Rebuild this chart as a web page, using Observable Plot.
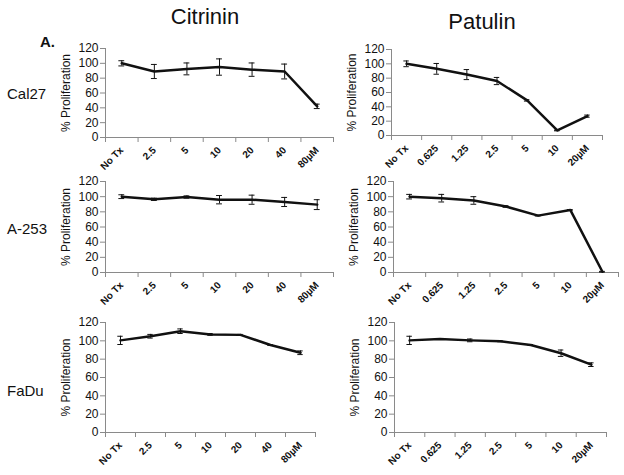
<!DOCTYPE html>
<html><head><meta charset="utf-8">
<script src="https://cdn.jsdelivr.net/npm/d3@7"></script>
<script src="https://cdn.jsdelivr.net/npm/@observablehq/plot@0.6"></script>
<style>
body{margin:0;background:#fff;}
#chart{position:relative;width:624px;height:475px;overflow:hidden;font-family:"Liberation Sans",Arial,sans-serif;color:#111;}
.lbl{position:absolute;white-space:nowrap;line-height:1;}
.panel{position:absolute;}
</style></head><body><div id="chart"></div>
<script>
// ---- data ----
const citrininDoses = ["No Tx", "2.5", "5", "10", "20", "40", "80µM"];
const patulinDoses  = ["No Tx", "0.625", "1.25", "2.5", "5", "10", "20µM"];
const yTicks = [0, 20, 40, 60, 80, 100, 120];

const cal27Citrinin    = [100, 89, 92.5, 95, 91.5, 89, 42];
const cal27CitrininErr = [3.5, 9.5, 8, 11, 9, 10, 3];
const cal27Patulin     = [100, 93, 85, 76, 49, 7, 27];
const cal27PatulinErr  = [4, 7.5, 7, 5, 1, 0.5, 1.5];

const a253Citrinin     = [100, 96.5, 99.5, 96, 96, 93, 89.5];
const a253CitrininErr  = [2.5, 1.5, 1.5, 5.5, 6, 6, 6.5];
const a253Patulin      = [100, 98, 95, 87, 75, 82.5, 1];
const a253PatulinErr   = [3, 5, 5, 1, 0.5, 0.5, 0.5];

const faduCitrinin     = [100.5, 105, 110.5, 107, 106.5, 95.5, 87];
const faduCitrininErr  = [4.5, 2, 2.5, 1, 0.5, 0.5, 2];
const faduPatulin      = [100.5, 102, 100.5, 99.5, 95.5, 86.5, 74];
const faduPatulinErr   = [4.5, 0.5, 1.5, 0.5, 0.5, 3.5, 2];

const drugTitles = ["Citrinin", "Patulin"];
const cellLines = ["Cal27", "A-253", "FaDu"];

// ---- layout ----
const panels = [
  {x0:105, x1:333, yT:48,  yB:137, doses:citrininDoses, v:cal27Citrinin, e:cal27CitrininErr},
  {x0:391, x1:602, yT:49,  yB:135, doses:patulinDoses,  v:cal27Patulin,  e:cal27PatulinErr},
  {x0:105, x1:333, yT:181, yB:272, doses:citrininDoses, v:a253Citrinin,  e:a253CitrininErr},
  {x0:393, x1:618, yT:181, yB:272, doses:patulinDoses,  v:a253Patulin,   e:a253PatulinErr},
  {x0:105, x1:315, yT:322, yB:432, doses:citrininDoses, v:faduCitrinin,  e:faduCitrininErr},
  {x0:394, x1:606, yT:322, yB:432, doses:patulinDoses,  v:faduPatulin,   e:faduPatulinErr}
];

const chart = document.getElementById("chart");
const FONT = '"Liberation Sans", Arial, sans-serif';
const AXIS = "#8a8a8a";
const INK = "#111";
const mL = 80, mR = 6, mT = 8, mB = 50;

panels.forEach(p => {
  const n = p.doses.length;
  const data = p.v.map((v, i) => ({x: i + 0.5, v, e: p.e[i]}));
  const centers = d3.range(n).map(i => i + 0.5);
  const svg = Plot.plot({
    width: mL + (p.x1 - p.x0) + mR,
    height: mT + (p.yB - p.yT) + mB,
    marginLeft: mL, marginRight: mR, marginTop: mT, marginBottom: mB,
    x: {domain: [0, n]},
    y: {domain: [0, 120]},
    style: {fontFamily: FONT, fontSize: "12px", color: INK, background: "transparent", overflow: "visible"},
    marks: [
      Plot.ruleY([0], {stroke: AXIS}),
      Plot.ruleX([0], {stroke: AXIS}),
      Plot.axisY({ticks: yTicks, tickSize: 5, tickPadding: 2, stroke: AXIS, fill: INK,
                  label: "% Proliferation", labelAnchor: "center", labelArrow: "none", labelOffset: 44}),
      Plot.axisX({ticks: d3.range(n + 1), tickFormat: () => "", tickSize: 5, stroke: AXIS, label: null}),
      Plot.axisX({ticks: centers, tickFormat: t => p.doses[Math.floor(t)], tickSize: 0, tickPadding: 11,
                  tickRotate: -45, fontWeight: "bold", fontSize: 10, fill: INK, label: null}),
      Plot.ruleX(data, {x: "x", y1: d => d.v - d.e, y2: d => d.v + d.e, stroke: INK, strokeWidth: 1}),
      Plot.ruleY(data, {y: d => d.v - d.e, x1: d => d.x - 0.09, x2: d => d.x + 0.09, stroke: INK, strokeWidth: 1}),
      Plot.ruleY(data, {y: d => d.v + d.e, x1: d => d.x - 0.09, x2: d => d.x + 0.09, stroke: INK, strokeWidth: 1}),
      Plot.line(data, {x: "x", y: "v", stroke: INK, strokeWidth: 2.5})
    ]
  });
  const wrap = document.createElement("div");
  wrap.className = "panel";
  wrap.style.left = (p.x0 - mL) + "px";
  wrap.style.top = (p.yT - mT) + "px";
  wrap.appendChild(svg);
  chart.appendChild(wrap);
});

function addLabel(text, left, top, size, weight, center) {
  const d = document.createElement("div");
  d.className = "lbl";
  d.textContent = text;
  d.style.left = left + "px";
  d.style.top = top + "px";
  d.style.fontSize = size + "px";
  d.style.fontWeight = weight;
  if (center) d.style.transform = "translateX(-50%)";
  chart.appendChild(d);
}
addLabel(drugTitles[0], 205, 6, 22, "normal", true);
addLabel(drugTitles[1], 482, 11, 22, "normal", true);
addLabel("A.", 40, 34, 15, "bold", false);
addLabel(cellLines[0], 7, 86, 15, "normal", false);
addLabel(cellLines[1], 7, 221, 15, "normal", false);
addLabel(cellLines[2], 7, 383, 15, "normal", false);
</script>
</body></html>
